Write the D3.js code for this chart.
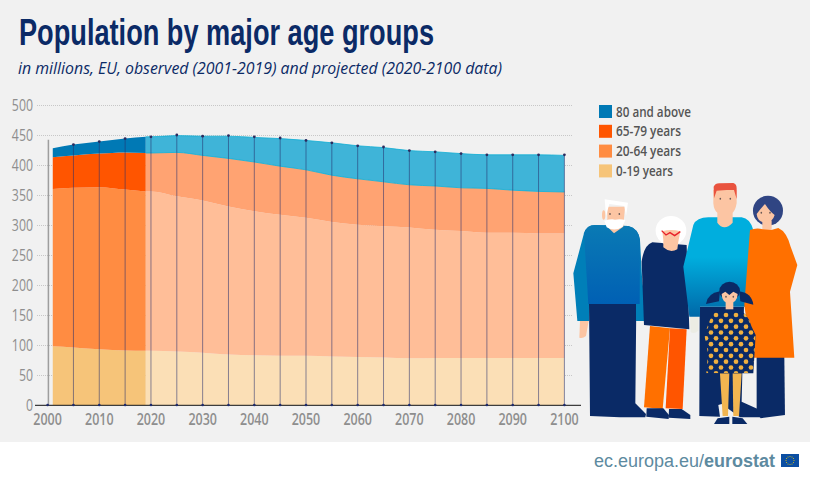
<!DOCTYPE html>
<html>
<head>
<meta charset="utf-8">
<script src="https://cdn.jsdelivr.net/npm/d3@7"></script>
<style>
html,body{margin:0;padding:0;background:#fff;}
svg{display:block;}
</style>
</head>
<body>
<script>
// observed part, 2001-2019 (millions)
var yearsObserved=[2001,2005,2010,2015,2019];
var youngObs=[98,96,93,91,90.5];
var workingObs=[262,266,270,268,265.5];
var seniorObs=[53,54,56,62,64];
var oldObs=[15,18,20,23,27];

// projected part, 2019-2100
var yearsProjected=[2019,2020,2025,2030,2035,2040,2045,2050,2055,2060,2065,2070,2075,2080,2085,2090,2095,2100];
var youngProj=[90.5,90.5,89,87,84,83,82,82,81,80,79,78,78.5,78.5,78.5,78.5,78.5,78.5];
var workingProj=[265.5,265.5,259,254,247,240,235,230,224,220.5,219,218,213.5,211.5,208.5,208.5,207.5,207.5];
var seniorProj=[64,64,73,75,80,82,81,80,78,76.5,74,71,73,72,74,71,70,69];
var oldProj=[27,27,28,32,37,41,46,49,54,55,57,57,57,57,56,59,61,61];

// vertical drop lines, one every 5 years
var dropYears=[2005,2010,2015,2020,2025,2030,2035,2040,2045,2050,2055,2060,2065,2070,2075,2080,2085,2090,2095,2100];
var dropTotals=[434,439,444,447,450,448,449,447,445,441,437,432,430,424,422,419,417,417,417,417];

var xTicks=[2000,2010,2020,2030,2040,2050,2060,2070,2080,2090,2100];
var yTicks=[0,50,100,150,200,250,300,350,400,450,500];

var groupKeys=["young","working","senior","old"];
var legendLabels=["80 and above","65-79 years","20-64 years","0-19 years"];
var legendWidths=[75,65,65,57];
var colorsObserved=["#f6c479","#ff8c42","#ff5500","#0079b5"];
var colorsProjected=["#fbdfb6","#ffbe98","#ffa372","#3fb4d8"];

var sans="'Open Sans',sans-serif";

var svg=d3.select("body").append("svg").attr("width",813).attr("height",484);
var defs=svg.append("defs");

//background panel
svg.append("rect").attr("width",810).attr("height",442).attr("fill","#f1f1f1");

//title and subtitle
svg.append("text").attr("x",19).attr("y",45).text("Population by major age groups")
	.attr("textLength",415).attr("lengthAdjust","spacingAndGlyphs")
	.style("font-family","'Liberation Sans',sans-serif").style("font-weight","bold").style("font-size","37px").attr("fill","#0b2a66");
svg.append("text").attr("x",18).attr("y",74).text("in millions, EU, observed (2001-2019) and projected (2020-2100 data)")
	.attr("textLength",484).attr("lengthAdjust","spacingAndGlyphs")
	.style("font-family",sans).style("font-style","italic").style("font-size","17px").attr("fill","#0b2a66");

//scales
var x=d3.scaleLinear().domain([2000,2100]).range([47.6,564.4]);
var y=d3.scaleLinear().domain([0,500]).range([405,105]);

//gridlines
svg.append("g").selectAll("line").data(yTicks.slice(1)).enter().append("line")
	.attr("x1",37).attr("x2",572)
	.attr("y1",function(d){return y(d)+0.5;}).attr("y2",function(d){return y(d)+0.5;})
	.attr("stroke","#bdbdbd").attr("stroke-width",0.8).attr("stroke-dasharray","1 1");

//stacked areas, observed and projected separately
function makeTable(years,a,b,c,d){
	return years.map(function(yr,i){
		return {year:yr,young:a[i],working:b[i],senior:c[i],old:d[i]};
	});
}
var stack=d3.stack().keys(groupKeys);
var area=d3.area()
	.x(function(d){return x(d.data.year);})
	.y0(function(d){return y(d[0]);})
	.y1(function(d){return y(d[1]);})
	.curve(d3.curveMonotoneX);
var line=d3.line()
	.x(function(d){return x(d.data.year);})
	.y(function(d){return y(d[1]);})
	.curve(d3.curveMonotoneX);

var obsSeries=stack(makeTable(yearsObserved,youngObs,workingObs,seniorObs,oldObs));
var projSeries=stack(makeTable(yearsProjected,youngProj,workingProj,seniorProj,oldProj));

svg.append("g").selectAll("path").data(obsSeries).enter().append("path")
	.attr("d",area).attr("fill",function(d,i){return colorsObserved[i];});
svg.append("g").selectAll("path").data(projSeries).enter().append("path")
	.attr("d",area).attr("fill",function(d,i){return colorsProjected[i];});
//thin cyan edge on the 80+ band
svg.append("g").selectAll("path").data(projSeries.slice(2)).enter().append("path")
	.attr("d",line).attr("fill","none").attr("stroke","#12aed4").attr("stroke-width",0.8);

//the 2000 line has no dot on top
svg.append("line").attr("x1",x(2000)+0.8).attr("x2",x(2000)+0.8).attr("y1",y(442)).attr("y2",y(0))
	.attr("stroke","#8f8f8f").attr("stroke-width",1.5).attr("stroke-opacity",0.85);

//drop lines
svg.append("g").selectAll("line").data(dropYears).enter().append("line")
	.attr("x1",function(d){return x(d);}).attr("x2",function(d){return x(d);})
	.attr("y1",function(d,i){return y(dropTotals[i]);}).attr("y2",y(0))
	.attr("stroke","#27306e").attr("stroke-width",1).attr("stroke-opacity",0.55);

//baseline
svg.append("line").attr("x1",35).attr("x2",581).attr("y1",405.3).attr("y2",405.3)
	.attr("stroke","#111").attr("stroke-width",1);

//dots top and bottom
svg.append("g").selectAll("circle").data(dropYears).enter().append("circle")
	.attr("cx",function(d){return x(d);}).attr("cy",function(d,i){return y(dropTotals[i]);})
	.attr("r",1.4).attr("fill","#2c2a5e");
svg.append("g").selectAll("circle").data([2000].concat(dropYears)).enter().append("circle")
	.attr("cx",function(d){return x(d);}).attr("cy",y(0))
	.attr("r",1.3).attr("fill","#1c2a6e");

//axis labels, squeezed horizontally because no condensed font is around
svg.append("g").selectAll("text").data(yTicks).enter().append("text")
	.attr("transform",function(d){return "translate(33,"+(y(d)+5.5)+") scale(0.77,1)";})
	.attr("text-anchor","end").text(function(d){return d;})
	.style("font-family",sans).style("font-size","16px").attr("fill","#8e8e8e");
svg.append("g").selectAll("text").data(xTicks).enter().append("text")
	.attr("transform",function(d){return "translate("+x(d)+",424.5) scale(0.78,1)";})
	.attr("text-anchor","middle").text(function(d){return d;})
	.style("font-family",sans).style("font-weight","600").style("font-size","16px").attr("fill","#8e8e8e");

//legend
var legend=svg.append("g").selectAll("g").data(legendLabels).enter().append("g")
	.attr("transform",function(d,i){return "translate(599,"+(105+i*19.8)+")";});
legend.append("rect").attr("width",13).attr("height",13)
	.attr("fill",function(d,i){return colorsObserved[3-i];});
legend.append("text").attr("x",17).attr("y",11.5).text(function(d){return d;})
	.attr("textLength",function(d,i){return legendWidths[i];}).attr("lengthAdjust","spacingAndGlyphs")
	.style("font-family",sans).style("font-weight","600").style("font-size","14px").attr("fill","#555");

//footer
var foot=svg.append("text").attr("x",594).attr("y",467)
	.style("font-family","'Liberation Sans',sans-serif").style("font-size","18px").attr("fill","#5d8aa0");
foot.append("tspan").text("ec.europa.eu/");
foot.append("tspan").style("font-weight","bold").text("eurostat");

svg.append("rect").attr("x",781).attr("y",454).attr("width",18).attr("height",13).attr("fill","#0b4ea2");
svg.append("g").selectAll("circle").data(d3.range(12)).enter().append("circle")
	.attr("cx",function(d){return 790+4*Math.cos(d*Math.PI/6);})
	.attr("cy",function(d){return 460.5+4*Math.sin(d*Math.PI/6);})
	.attr("r",0.5).attr("fill","#f5d000");

//FAMILY ILLUSTRATION, drawn in 3x picture units
var navy="#0a2a66", skin="#fcc5a3";
var fam=svg.append("g").attr("transform","translate(570,90) scale(0.3333)");

var g1=defs.append("linearGradient").attr("id","oldTop").attr("x1",0).attr("x2",0).attr("y1",0).attr("y2",1);
g1.append("stop").attr("offset","0").attr("stop-color","#0a7ab4");
g1.append("stop").attr("offset","1").attr("stop-color","#0060b4");
var g2=defs.append("linearGradient").attr("id","youngTop").attr("x1",0).attr("x2",0).attr("y1",0).attr("y2",1);
g2.append("stop").attr("offset","0.4").attr("stop-color","#00aede");
g2.append("stop").attr("offset","1").attr("stop-color","#0068a8");

function shape(d,fill){fam.append("path").attr("d",d).attr("fill",fill);}
function blob(cx,cy,rx,ry,fill){fam.append("ellipse").attr("cx",cx).attr("cy",cy).attr("rx",rx).attr("ry",ry).attr("fill",fill);}
function eyes(x1,x2,yy){blob(x1,yy,2.5,3,"#6b5a55");blob(x2,yy,2.5,3,"#6b5a55");}

//old man
shape("M30,693 L56,693 L48,738 Q38,746 28,743 Z",skin);
shape("M57,640 L199,640 L196,940 L228,972 L226,982 L145,982 L140,966 L112,945 L125,735 L128,945 L150,982 L60,978 Z",navy);
shape("M42,430 Q50,405 75,405 L175,408 Q205,415 210,450 L216,560 L230,693 L198,693 L198,642 L57,642 L57,693 L22,693 L10,550 Z","#007fb8");
shape("M42,430 Q50,405 75,405 L175,408 Q205,415 210,450 L209,642 L55,642 Z","url(#oldTop)");
shape("M112,350 L165,350 L160,410 L132,430 L112,410 Z",skin);
blob(101,375,5,14,skin);
shape("M104,328 L174,338 L168,378 L163,348 L118,342 L108,378 Z","#fff");
shape("M103,392 Q125,386 135,389 Q150,386 166,390 L158,410 Q135,426 110,412 Z","#fff");
eyes(120,148,372);

//old woman
shape("M240,708 L222,952 L278,957 L300,715 Z","#ff7000");
shape("M300,715 L350,718 L338,957 L287,955 Z","#ff5500");
shape("M230,955 L280,955 L297,975 L296,987 L229,980 Z",navy);
shape("M297,957 L335,957 L361,975 L361,987 L296,983 Z",navy);
shape("M247,457 L350,465 L358,718 L222,705 L215,515 Q222,465 247,457 Z",navy);
blob(303,422,46,44,"#fff");
shape("M277,424 Q303,416 331,424 L325,455 L322,478 Q300,490 280,472 L280,450 Z",skin);
fam.append("path").attr("d","M275,422 L288,435 L300,428 L314,437 L331,425")
	.attr("fill","none").attr("stroke","#e8202a").attr("stroke-width",4);

//young man
shape("M360,680 L385,680 L385,722 Q370,735 362,725 Z","#ecece4");
shape("M389,650 L522,650 L515,935 L570,960 L570,982 L510,982 L455,942 L445,945 L450,980 L388,978 Z",navy);
shape("M370,405 Q380,382 415,382 L515,382 Q540,385 550,420 L525,650 L390,650 L390,680 L358,680 L340,530 Z","url(#youngTop)");
shape("M430,300 L500,300 L500,340 Q496,362 488,368 L488,398 Q462,425 442,398 L442,368 Q432,362 430,340 Z",skin);
shape("M432,325 L431,290 Q436,279 450,280 L490,279 Q500,282 500,295 L500,327 L492,300 L470,300 L440,302 Z","#e9533f");
eyes(451,481,326);

//young woman
shape("M560,800 L643,800 L645,975 L572,985 L560,970 Z",navy);
blob(594,362,45,45,"#304583");
shape("M560,372 Q575,352 585,342 Q600,365 614,375 Q608,398 585,398 Q562,395 560,372 Z",skin);
shape("M577,392 L605,392 L605,422 L577,422 Z",skin);
shape("M540,420 Q560,412 578,418 L604,420 L625,414 Q650,425 662,470 L682,525 L660,605 L673,803 L545,803 L523,645 Z","#ff7000");
eyes(574,600,368);

//girl
shape("M450,850 L478,850 L474,978 L458,978 Z","#f2b550");
shape("M488,850 L515,850 L507,978 L490,978 Z","#f2b550");
shape("M432,1002 L443,985 L478,980 L478,1002 Z",navy);
shape("M487,1002 L487,980 L518,985 L532,1002 Z",navy);
var dressPath="M455,655 L500,655 Q535,670 545,710 L557,735 L550,850 L409,850 L414,790 L403,735 L420,690 Q430,665 455,655 Z";
defs.append("clipPath").attr("id","dressClip").append("path").attr("d",dressPath);
shape(dressPath,navy);
var dots=fam.append("g").attr("clip-path","url(#dressClip)");
d3.range(11).forEach(function(row){
	d3.range(6).forEach(function(col){
		dots.append("circle").attr("cx",408+col*30+(row%2)*15).attr("cy",675+row*17.5)
			.attr("r",7).attr("fill","#f0b040");
	});
});
shape("M467,635 L490,635 L490,658 L467,658 Z",skin);
shape("M450,604 Q412,610 408,642 L447,634 Z",navy);
shape("M508,604 Q546,610 550,644 L511,634 Z",navy);
blob(479,603,31,28,navy);
shape("M455,612 L466,605 L478,615 L490,605 L503,612 Q502,638 478,640 Q456,638 455,612 Z",skin);
eyes(468,490,620);
</script>
</body>
</html>
